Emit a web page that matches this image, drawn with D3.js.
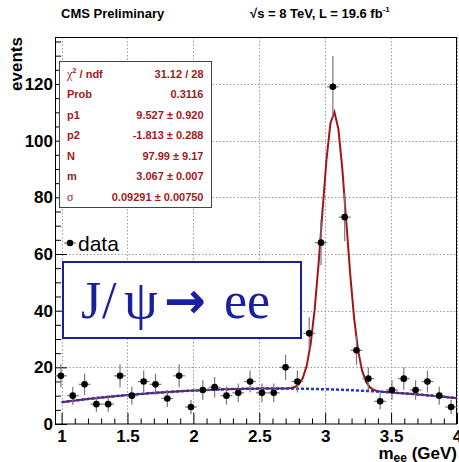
<!DOCTYPE html>
<html><head><meta charset="utf-8">
<script src="https://cdn.jsdelivr.net/npm/d3@7"></script>
<style>body{margin:0;background:#fff}</style>
</head><body>
<svg id="c" width="459" height="462"></svg>
<script>
// ---- data ----
const histLow = 0.95, histHigh = 4.0;
const counts = [17,10,14,7,7,17,10,15,14,9,17,6,12,13,10,11,15,11,11,20,15,32,64,119,73,26,16,8,12,16,12,15,10,6];
const xTicks = [1, 1.5, 2, 2.5, 3, 3.5, 4];
const yTicks = [0, 20, 40, 60, 80, 100, 120];
const fitRange = [1.0, 4.0];
const fitP1 = 9.527, fitP2 = -1.813, fitN = 97.99, fitM = 3.067, fitSigma = 0.09291;
const statsLabels = ["\u03c7\u00b2 / ndf", "Prob", "p1", "p2", "N", "m", "\u03c3"];
const statsValues = ["31.12 / 28", "0.3116", "9.527 \u00b1 0.920", "-1.813 \u00b1 0.288", "97.99 \u00b1 9.17", "3.067 \u00b1 0.007", "0.09291 \u00b1 0.00750"];

const svg = d3.select("#c");
const L = 55, R = 457, T = 37.5, B = 424;
const yMax = 1.05 * (d3.max(counts) + Math.sqrt(d3.max(counts)));
const x = d3.scaleLinear().domain([histLow, histHigh]).range([L, R]);
const y = d3.scaleLinear().domain([0, yMax]).range([B, T]);
const binW = (histHigh - histLow) / counts.length;
const data = counts.map((c, i) => ({x: histLow + binW * (i + 0.5), y: c, e: Math.sqrt(c)}));

const sans = "'Liberation Sans', Arial, Helvetica, sans-serif";
const serif = "'Liberation Serif', 'Times New Roman', serif";

// grid
const grid = svg.append("g").attr("stroke", "#9a9a9a").attr("stroke-width", 1).attr("stroke-dasharray", "1.5,2");
grid.selectAll(".gx").data(xTicks).join("line")
  .attr("x1", d => Math.round(x(d)) + 0.5).attr("x2", d => Math.round(x(d)) + 0.5).attr("y1", T).attr("y2", B);
grid.selectAll(".gy").data(yTicks.filter(d => d > 0)).join("line")
  .attr("y1", d => Math.round(y(d)) + 0.5).attr("y2", d => Math.round(y(d)) + 0.5).attr("x1", L).attr("x2", R);

// axes
const xMinor = d3.range(1.0, 4.0001, 0.1).map(d => +d.toFixed(2)).filter(d => !xTicks.some(t => Math.abs(t - d) < 1e-6));
const yMinor = d3.range(0, yMax, 5).filter(d => d % 20 !== 0);

svg.append("g").attr("transform", `translate(0,${B})`)
  .call(d3.axisBottom(x).tickValues(xTicks).tickSize(-11).tickPadding(6).tickFormat(d3.format("~g")));
svg.append("g").attr("transform", `translate(0,${B})`)
  .call(d3.axisBottom(x).tickValues(xMinor).tickSize(-5.5).tickFormat(""))
  .call(g => g.select(".domain").remove());
svg.append("g").attr("transform", `translate(${L},0)`)
  .call(d3.axisLeft(y).tickValues(yTicks).tickSize(-12).tickPadding(2));
svg.append("g").attr("transform", `translate(${L},0)`)
  .call(d3.axisLeft(y).tickValues(yMinor).tickSize(-6).tickFormat(""))
  .call(g => g.select(".domain").remove());
svg.selectAll(".tick text").attr("font-family", sans).attr("font-weight", "bold").attr("font-size", 17).attr("fill", "#000");
svg.selectAll(".domain").remove();
svg.selectAll(".tick line").attr("stroke", "#000");

// frame
svg.append("rect").attr("x", L + 0.5).attr("y", T).attr("width", R - L - 1).attr("height", B - T)
  .attr("fill", "none").attr("stroke", "#000").attr("stroke-width", 1);

// fit curves
const fitXs = d3.range(0, 101).map(i => fitRange[0] + (fitRange[1] - fitRange[0]) * i / 100);
const bkg = v => fitP1 * v + fitP2 * v * v;
const tot = v => bkg(v) + fitN * Math.exp(-0.5 * Math.pow((v - fitM) / fitSigma, 2));
const line = d3.line().x(d => x(d[0])).y(d => y(d[1]));
svg.append("path").attr("d", line(fitXs.map(v => [v, tot(v)])))
  .attr("fill", "none").attr("stroke", "#a31515").attr("stroke-width", 2);
svg.append("path").attr("d", line(fitXs.map(v => [v, bkg(v)])))
  .attr("fill", "none").attr("stroke", "#2236c8").attr("stroke-width", 2.5).attr("stroke-dasharray", "3,2");

// data points
const pts = svg.append("g");
pts.selectAll(".ev").data(data).join("line")
  .attr("x1", d => x(d.x)).attr("x2", d => x(d.x)).attr("y1", d => y(d.y - d.e)).attr("y2", d => y(d.y + d.e))
  .attr("stroke", "#777").attr("stroke-width", 1.2);
pts.selectAll(".eh").data(data).join("line")
  .attr("x1", d => x(d.x - binW / 2)).attr("x2", d => x(d.x + binW / 2)).attr("y1", d => y(d.y)).attr("y2", d => y(d.y))
  .attr("stroke", "#777").attr("stroke-width", 1.2);
pts.selectAll("circle").data(data).join("circle")
  .attr("cx", d => x(d.x)).attr("cy", d => y(d.y)).attr("r", 3.3).attr("fill", "#000");

// stats box
const sb = svg.append("g");
sb.append("rect").attr("x", 59.5).attr("y", 61.5).attr("width", 152).attr("height", 146)
  .attr("fill", "#fff").attr("stroke", "#444").attr("stroke-width", 1);
const red = "#a01a1a";
statsLabels.forEach((lab, i) => {
  const by = 78 + i * 20.45;
  const t = sb.append("text").attr("x", 67).attr("y", by).attr("fill", red)
    .attr("font-family", sans).attr("font-weight", "bold").attr("font-size", 11);
  if (i === 0) {
    t.append("tspan").attr("font-family", serif).attr("font-weight", "normal").attr("font-size", 12).text("\u03c7");
    t.append("tspan").attr("font-size", 7.5).attr("dy", -5).text("2");
    t.append("tspan").attr("dy", 5).text(" / ndf");
  } else if (i === 6) {
    t.attr("font-family", serif).attr("font-weight", "normal").attr("font-size", 12).text(lab);
  } else t.text(lab);
  sb.append("text").attr("x", 203.5).attr("y", by).attr("text-anchor", "end").attr("fill", red)
    .attr("font-family", sans).attr("font-weight", "bold").attr("font-size", 11).text(statsValues[i]);
});

// legend
svg.append("line").attr("x1", 64).attr("x2", 76).attr("y1", 243).attr("y2", 243).attr("stroke", "#777").attr("stroke-width", 1.2);
svg.append("circle").attr("cx", 70).attr("cy", 243).attr("r", 3.3).attr("fill", "#000");
svg.append("text").attr("x", 78).attr("y", 250.5).attr("font-family", sans).attr("font-size", 21).text("data");

// J/psi box
const blue = "#1a1f9e";
svg.append("rect").attr("x", 63).attr("y", 262).attr("width", 238).attr("height", 76)
  .attr("fill", "#fff").attr("stroke", blue).attr("stroke-width", 2);
const jt = svg.append("text").attr("y", 318).attr("font-family", serif).attr("font-size", 52).attr("fill", blue);
jt.append("tspan").attr("x", 81).text("J");
jt.append("tspan").attr("x", 102).text("/");
jt.append("tspan").attr("x", 124).attr("font-size", 54).text("\u03c8");
jt.append("tspan").attr("x", 164).attr("font-family", "'DejaVu Sans', sans-serif").attr("font-weight", "bold").attr("font-size", 50).text("\u2192");
jt.append("tspan").attr("x", 224).text("ee");

// titles
svg.append("text").attr("x", 61).attr("y", 18).attr("font-family", sans).attr("font-weight", "bold").attr("font-size", 13).text("CMS Preliminary");
const en = svg.append("text").attr("x", 250).attr("y", 18).attr("font-family", sans).attr("font-weight", "bold").attr("font-size", 13);
en.append("tspan").text("\u221as = 8 TeV, L = 19.6 fb");
en.append("tspan").attr("font-size", 8).attr("dy", -6).text("-1");

const xt = svg.append("text").attr("x", 457).attr("y", 459).attr("text-anchor", "end")
  .attr("font-family", sans).attr("font-weight", "bold").attr("font-size", 17);
xt.append("tspan").text("m");
xt.append("tspan").attr("font-size", 12).attr("dy", 3).text("ee");
xt.append("tspan").attr("dy", -3).text(" (GeV)");

svg.append("text").attr("transform", "translate(22,37) rotate(-90)").attr("text-anchor", "end")
  .attr("font-family", sans).attr("font-weight", "bold").attr("font-size", 17).text("events");
</script>
</body></html>
